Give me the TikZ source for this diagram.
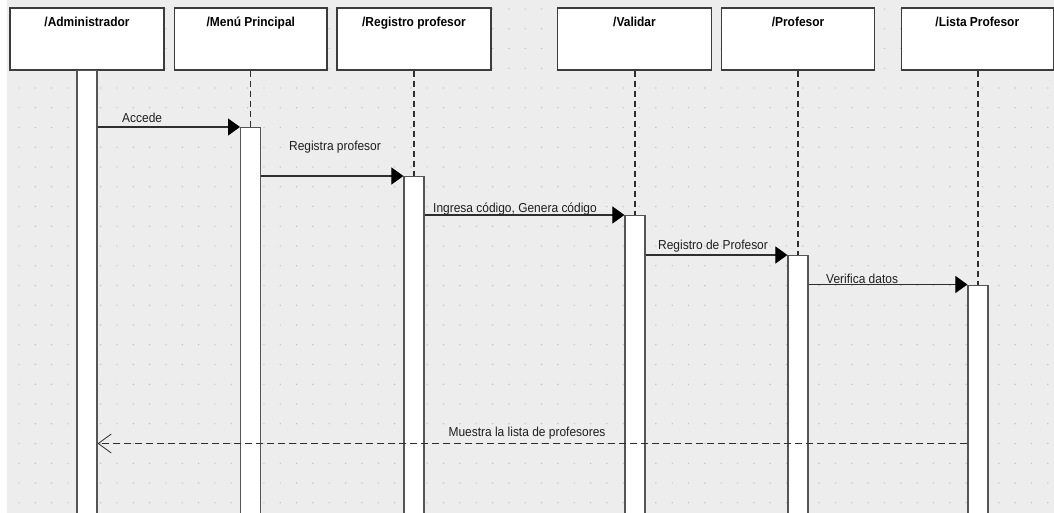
\documentclass[tikz,border=0pt]{standalone}
\usepackage{fontspec}
\setmainfont{Liberation Sans}[FakeStretch=0.92]
\usetikzlibrary{arrows.meta,calc}
\definecolor{bgc}{HTML}{EDEDED}
\definecolor{dotc}{HTML}{BDBDBD}
\definecolor{boxline}{HTML}{3C3C3C}
\definecolor{barline}{HTML}{555555}
\definecolor{msgc}{HTML}{2E2E2E}
\definecolor{txtc}{HTML}{1E1E1E}
\tikzset{
  objbox/.style={draw=boxline, line width=1.2pt, fill=white, minimum height=62pt, inner sep=0pt},
  titletext/.style={font=\bfseries\fontsize{13}{15}\selectfont, text=black, inner sep=0pt},
  actbar/.style={draw=barline, line width=1.2pt, fill=white, minimum width=20pt, inner sep=0pt, anchor=north},
  lifeline/.style={draw=msgc, line width=1.3pt, dash pattern=on 6pt off 4pt},
  msg/.style={draw=msgc, line width=1.1pt, -{Triangle[length=12pt,width=17pt,fill=black,color=black]}},
  retmsg/.style={draw=msgc, line width=1.1pt, dash pattern=on 7pt off 4pt, -{Straight Barb[length=13pt,width=19pt,line width=0.8pt]}},
  lbl/.style={font=\fontsize{13}{15}\selectfont, text=txtc, inner sep=0pt}
}
\begin{document}
\begin{tikzpicture}[x=1pt,y=-1pt]
\useasboundingbox (0,0) rectangle (1054,513);
\fill[white] (0,0) rectangle (1054,513);
\fill[bgc] (7,0) rectangle (1054,513);
\foreach \i in {0,...,63}{
  \foreach \j in {0,...,25}{
    \fill[dotc] ({19+\i*16.33},{9+\j*19.75}) circle (0.7pt);
  }
}
% object boxes
\node[objbox, minimum width=154pt] (admin) at (87,39) {};
\node[objbox, minimum width=152.4pt] (menu) at (250.8,39) {};
\node[objbox, minimum width=154pt] (reg) at (414,39) {};
\node[objbox, minimum width=154pt] (val) at (634.5,39) {};
\node[objbox, minimum width=152.6pt] (prof) at (798,39) {};
\node[objbox, minimum width=152pt] (lista) at (977.3,39) {};
% titles
\node[titletext, anchor=base] (tadmin) at ($(admin.north)+(0,19)$) {/Administrador};
\node[titletext, anchor=base] (tmenu) at ($(menu.north)+(0,19)$) {/Menú Principal};
\node[titletext, anchor=base] (treg) at ($(reg.north)+(0,19)$) {/Registro profesor};
\node[titletext, anchor=base] (tval) at ($(val.north)+(0,19)$) {/Validar};
\node[titletext, anchor=base] (tprof) at ($(prof.north)+(0,19)$) {/Profesor};
\node[titletext, anchor=base] (tlista) at ($(lista.north)+(0,19)$) {/Lista Profesor};
% activation bars
\node[actbar, minimum height=446pt] (b1) at (87,70) {};
\node[actbar, minimum height=389pt] (b2) at (250.6,127) {};
\node[actbar, minimum height=340pt] (b3) at (414,176) {};
\node[actbar, minimum height=301pt] (b4) at (635,215) {};
\node[actbar, minimum height=261pt] (b5) at (798,255) {};
\node[actbar, minimum height=232pt] (b6) at (978,284.5) {};
% lifelines
\draw[lifeline] (b2.north |- menu.south) -- (b2.north);
\draw[lifeline] (b3.north |- reg.south) -- (b3.north);
\draw[lifeline] (b4.north |- val.south) -- (b4.north);
\draw[lifeline] (b5.north |- prof.south) -- (b5.north);
\draw[lifeline] (b6.north |- lista.south) -- (b6.north);
% messages
\draw[msg] (b1.east |- b2.north) -- (b2.north west);
\draw[msg] (b2.east |- b3.north) -- (b3.north west);
\draw[msg] (b3.east |- b4.north) -- (b4.north west);
\draw[msg] (b4.east |- b5.north) -- (b5.north west);
\draw[msg] (b5.east |- b6.north) -- (b6.north west);
\coordinate (rety) at (0,443.5);
\draw[retmsg] (b6.west |- rety) -- (b1.east |- rety);
% labels
\node[lbl, anchor=base west] (l1) at (122,123) {Accede};
\node[lbl, anchor=base] (l2) at (335,151) {Registra profesor};
\node[lbl, anchor=base west] (l3) at (433,212) {Ingresa código, Genera código};
\node[lbl, anchor=base west] (l4) at (658,249) {Registro de Profesor};
\node[lbl, anchor=base west] (l5) at (826,283) {Verifica datos};
\node[lbl, anchor=base] (l6) at (527,436) {Muestra la lista de profesores};
\end{tikzpicture}
\end{document}
